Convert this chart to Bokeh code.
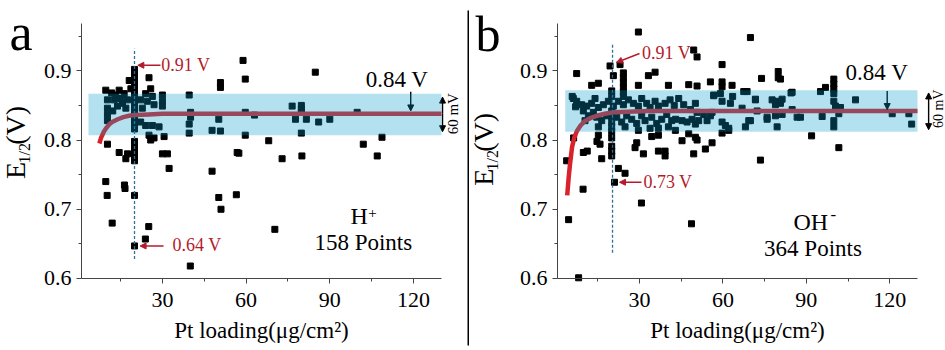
import math
from bokeh.plotting import figure
from bokeh.layouts import row
from bokeh.models import FixedTicker, Label, Arrow, NormalHead, BoxAnnotation, Range1d
from bokeh.embed import file_html
from bokeh.resources import INLINE

SERIF = "Liberation Serif"
RED_TXT = "#b31b2c"
CURVE_RED = "#d8232a"
BAND_COLOR = (5, 155, 205)
DASH_COLOR = "#2f6f96"

# ---------------- data: panel a (H+) ----------------
h_loading = [20, 20, 20, 20, 20, 20, 20, 20, 20, 20, 20, 20, 20, 20, 20, 20, 20, 20, 20, 20,
             9.7, 10.3, 10.3, 10.3, 10.3, 12.7, 13.3, 14.5, 15.7, 16.3, 16.9, 18.1, 18.7, 13.9, 11.8, 12.2, 17.5, 15.0,
             22.2, 22.8, 24.0, 24.6, 25.2, 25.8, 26.4, 27.0, 30.0, 30.0, 30.0, 24.0, 26.4, 28.8, 25.2, 25.8, 27.0, 30.6, 22.2, 39.6, 39.6, 39.6, 40.1, 40.1,
             10.3, 14.5, 16.9, 17.5, 30.0, 31.8, 32.4, 47.8, 9.7,
             10.2, 12.0, 16.4, 16.6, 23.9, 25.1, 40.0, 50.2, 51.0, 56.5, 70.3,
             47.8, 50.8, 50.8, 50.8, 50.2, 56.8,
             58.9, 59.7, 59.7, 63.0, 59.7, 57.4, 68.1, 72.9, 80.0, 84.8, 76.5, 79.8, 79.8, 79.8, 77.7, 81.6, 86.0, 90.0, 79.8, 99.8, 102.0, 108.7, 107.0]
h_e12 = [0.902, 0.895, 0.888, 0.881, 0.874, 0.867, 0.858, 0.851, 0.844, 0.837, 0.830, 0.823, 0.816, 0.798, 0.791, 0.784, 0.777, 0.770, 0.720, 0.647,
         0.872, 0.858, 0.846, 0.837, 0.828, 0.858, 0.865, 0.872, 0.853, 0.867, 0.846, 0.886, 0.874, 0.849, 0.868, 0.842, 0.858, 0.860,
         0.858, 0.846, 0.867, 0.856, 0.890, 0.874, 0.863, 0.851, 0.865, 0.856, 0.849, 0.821, 0.821, 0.819, 0.807, 0.800, 0.803, 0.805, 0.826, 0.865, 0.823, 0.810, 0.840, 0.833,
         0.794, 0.782, 0.773, 0.780, 0.780, 0.780, 0.759, 0.755, 0.740,
         0.720, 0.680, 0.735, 0.730, 0.657, 0.675, 0.618, 0.717, 0.700, 0.721, 0.671,
         0.814, 0.813, 0.876, 0.883, 0.830, 0.782,
         0.915, 0.888, 0.840, 0.836, 0.807, 0.781, 0.799, 0.773, 0.777, 0.898, 0.849, 0.850, 0.845, 0.840, 0.830, 0.830, 0.826, 0.830, 0.810, 0.840, 0.794, 0.804, 0.777]
h_fit_x = [7.4, 8.0, 9.0, 10.0, 11.0, 12.0, 14.0, 16.0, 18.0, 20.0, 25.0, 30.0, 40.0, 60.0, 130.0]
h_fit_y = [0.795, 0.803, 0.812, 0.818, 0.823, 0.826, 0.830, 0.833, 0.835, 0.836, 0.837, 0.838, 0.838, 0.838, 0.838]

# ---------------- data: panel b (OH-) ----------------
oh_loading = [29.6, 19.4, 23.0, 7.4, 12.8, 15.2, 20.6, 24.2, 24.2, 24.2, 24.2, 24.2, 24.2, 33.2, 35.6, 29.6, 40.4,
              15.2, 20.0, 20.0, 20.0, 20.0, 15.8, 9.8, 16.4, 22.4, 24.8, 29.0, 28.4, 31.4, 36.8, 39.2, 39.2, 34.4, 36.8, 3.8, 6.3, 11.2, 14.7, 42.9,
              6.2, 7.4, 9.2, 11.0, 12.8, 14.0, 15.2, 17.0, 18.8, 20.0, 20.6, 22.4, 24.2, 26.0, 27.8, 29.6, 30.8, 32.6, 33.8, 35.6, 36.8, 39.2, 41.0,
              9.8, 11.6, 13.4, 14.6, 16.4, 18.2, 20.0, 21.8, 23.6, 25.4, 27.2, 29.0, 30.8, 32.0, 34.4, 36.2, 38.0, 39.8, 41.6,
              10.4, 15.2, 20.0, 24.8, 29.6, 33.8, 36.8, 40.4,
              20.0, 20.0, 20.0, 20.0, 5.8, 7.0, 42.5, 43.0,
              4.5, 9.7, 8.1, 21.0, 30.7, 48.7,
              44.1, 45.9, 48.3, 50.1, 50.7, 45.3, 47.1, 48.9, 50.1, 51.3, 53.1, 54.3, 56.1, 56.7, 59.1, 59.7, 59.7, 60.9, 62.1, 62.7,
              66.9, 67.5, 68.7, 71.7, 69.3, 68.1, 72.3, 75.9, 77.7, 78.9, 79.5, 80.7, 78.9, 79.5, 81.3, 84.9, 86.7,
              47.7, 50.7, 55.5, 59.7, 59.7, 63.3, 73.9, 79.9, 79.9, 80.7, 84.9, 49.5, 50.7, 59.7, 69.9, 45.3, 47.7, 50.1, 50.7, 49.5, 53.7, 56.1, 59.7, 73.5,
              99.9, 99.9, 99.9, 99.9, 95.1, 96.9, 107.7, 99.9, 100.5, 102.3, 101.7, 87.9, 95.7, 99.9, 99.9, 91.9, 101.7, 120.9, 126.9, 127.9,
              63.5, 71.7, 81.3, 84.5, 56.7, 55.5, 62.1, 69.9, 75.9]
oh_e12 = [0.956, 0.907, 0.909, 0.896, 0.879, 0.882, 0.893, 0.897, 0.890, 0.883, 0.876, 0.869, 0.863, 0.893, 0.898, 0.879, 0.879,
          0.807, 0.803, 0.791, 0.784, 0.777, 0.794, 0.782, 0.773, 0.759, 0.752, 0.796, 0.789, 0.780, 0.784, 0.784, 0.777, 0.805, 0.807, 0.770, 0.803, 0.784, 0.798, 0.814,
          0.860, 0.856, 0.851, 0.849, 0.853, 0.860, 0.847, 0.851, 0.856, 0.863, 0.849, 0.856, 0.851, 0.858, 0.853, 0.849, 0.860, 0.853, 0.847, 0.856, 0.849, 0.853, 0.858,
          0.842, 0.835, 0.840, 0.833, 0.828, 0.835, 0.842, 0.833, 0.826, 0.835, 0.830, 0.824, 0.835, 0.828, 0.833, 0.824, 0.830, 0.837, 0.828,
          0.828, 0.819, 0.819, 0.819, 0.814, 0.817, 0.817, 0.819,
          0.871, 0.835, 0.826, 0.812, 0.863, 0.848, 0.850, 0.830,
          0.685, 0.729, 0.601, 0.739, 0.709, 0.679,
          0.860, 0.851, 0.844, 0.853, 0.840, 0.828, 0.826, 0.830, 0.823, 0.828, 0.837, 0.828, 0.840, 0.865, 0.867, 0.856, 0.826, 0.821, 0.817, 0.853,
          0.846, 0.870, 0.870, 0.858, 0.828, 0.819, 0.842, 0.830, 0.858, 0.851, 0.856, 0.853, 0.835, 0.819, 0.837, 0.844, 0.833,
          0.880, 0.878, 0.884, 0.884, 0.877, 0.879, 0.889, 0.899, 0.890, 0.888, 0.869, 0.930, 0.920, 0.909, 0.948, 0.799, 0.809, 0.804, 0.800, 0.780, 0.787, 0.796, 0.810, 0.771,
          0.888, 0.881, 0.874, 0.867, 0.870, 0.876, 0.858, 0.856, 0.849, 0.847, 0.838, 0.833, 0.834, 0.828, 0.819, 0.806, 0.789, 0.838, 0.838, 0.823,
          0.863, 0.859, 0.859, 0.868, 0.864, 0.835, 0.814, 0.828, 0.833]
oh_fit_x = [4.0, 4.5, 5.0, 5.75, 6.5, 7.5, 8.8, 10.5, 12.5, 14.7, 17.5, 20.7, 26.0, 33.0, 130.0]
oh_fit_y = [0.720, 0.745, 0.765, 0.790, 0.803, 0.813, 0.821, 0.828, 0.832, 0.835, 0.838, 0.840, 0.841, 0.842, 0.842]

# ticks
x_ticks = [30, 60, 90, 120]
x_minor = [15, 45, 75, 105]
y_ticks = [0.6, 0.7, 0.8, 0.9]
y_minor = [0.65, 0.75, 0.85, 0.95]
Y_LO, Y_HI = 0.6, 0.969

# annotations
h_band = (3.5, 130, 0.807, 0.867)
oh_band = (3.3, 130, 0.812, 0.872)
h_ref = (20.0, 0.628, 0.932)
oh_ref = (20.3, 0.637, 0.940)


def make_panel(width, xr, x_lo, pts_x, pts_y, fit_x, fit_y, band, ref):
    # frame covers the whole canvas; axes are pinned at the data origin of the panel
    p = figure(width=width, height=350, x_range=Range1d(*xr), y_range=Range1d(0.5032, 0.9871),
               output_backend="svg", toolbar_location=None, title=None,
               min_border_left=0, min_border_right=0, min_border_top=0, min_border_bottom=0)
    p.outline_line_color = None
    p.xgrid.visible = False
    p.ygrid.visible = False
    p.background_fill_color = "white"

    p.xaxis.ticker = FixedTicker(ticks=x_ticks, minor_ticks=x_minor)
    p.yaxis.ticker = FixedTicker(ticks=y_ticks, minor_ticks=y_minor)
    p.xaxis.fixed_location = Y_LO
    p.yaxis.fixed_location = x_lo
    p.xaxis.bounds = (x_lo, 130)
    p.yaxis.bounds = (Y_LO, Y_HI)
    for ax in (p.xaxis, p.yaxis):
        ax.axis_line_color = "#444444"
        ax.major_tick_line_color = "#444444"
        ax.minor_tick_line_color = "#444444"
        ax.major_tick_out = 5
        ax.major_tick_in = 0
        ax.minor_tick_out = 3
        ax.minor_tick_in = 0
        ax.major_label_text_font = SERIF
        ax.major_label_text_font_size = "22px"
        ax.major_label_text_color = "black"
        ax.major_label_standoff = 5
    p.xaxis.major_label_standoff = 10
    p.xaxis.axis_label = "Pt loading(μg/cm²)"
    p.xaxis.axis_label_text_font = SERIF
    p.xaxis.axis_label_text_font_size = "23px"
    p.xaxis.axis_label_text_font_style = "normal"
    p.xaxis.axis_label_text_color = "black"
    p.xaxis.axis_label_standoff = 7

    p.scatter(pts_x, pts_y, marker="square", size=6, color="black")
    p.line(fit_x, fit_y, line_color=CURVE_RED, line_width=4.5)
    p.segment(x0=[ref[0]], y0=[ref[1]], x1=[ref[0]], y1=[ref[2]], line_color=DASH_COLOR,
              line_width=1.3, line_dash="3 2")
    p.add_layout(BoxAnnotation(left=band[0], right=band[1], bottom=band[2], top=band[3],
                               fill_color=BAND_COLOR, fill_alpha=0.3, line_color=None, level="overlay"))
    return p


def lbl(p, x, y, text, size, color="black", align="left", angle=0.0):
    p.add_layout(Label(x=x, y=y, text=text, text_font=SERIF,
                       text_font_size=size, text_color=color, text_align=align,
                       text_baseline="middle", angle=angle))


def arrow(p, x0, y0, x1, y1, color, both=False, size=7):
    head = dict(size=size, fill_color=color, line_color=color)
    p.add_layout(Arrow(x_start=x0, y_start=y0, x_end=x1, y_end=y1, line_color=color, line_width=1.4,
                       end=NormalHead(**head), start=NormalHead(**head) if both else None))


# ---- panel a ----
pa = make_panel(467, (-28.03, 139.35), 1.0, h_loading, h_e12, h_fit_x, h_fit_y, h_band, h_ref)
lbl(pa, -24.8, 0.9546, "a", "52px")
lbl(pa, -22.8, 0.7438, "E", "28px", angle=math.pi / 2)
lbl(pa, -19.6, 0.7660, "1/2", "16px", angle=math.pi / 2)
lbl(pa, -22.8, 0.7930, "(V)", "28px", angle=math.pi / 2)
lbl(pa, 29.6, 0.9079, "0.91 V", "18px", RED_TXT)
arrow(pa, 29.3, 0.908, 21.2, 0.908, RED_TXT, size=6)
lbl(pa, 33.6, 0.6484, "0.64 V", "18px", RED_TXT)
arrow(pa, 30.4, 0.647, 22.0, 0.647, RED_TXT, size=6)
lbl(pa, 114.1, 0.8873, "0.84 V", "23px", align="center")
arrow(pa, 119.0, 0.8696, 119.0, 0.842, "black", size=6)
arrow(pa, 130.4, 0.838, 130.4, 0.862, "black", size=6)
arrow(pa, 130.4, 0.838, 130.4, 0.812, "black", size=6)
lbl(pa, 134.3, 0.838, "60 mV", "15px", align="center", angle=math.pi / 2)
lbl(pa, 97.4, 0.6899, "H", "24px")
lbl(pa, 103.8, 0.6950, "+", "15px")
lbl(pa, 102.0, 0.6525, "158 Points", "23px", align="center")

# ---- divider ----
div = figure(width=2, height=350, output_backend="svg", toolbar_location=None, title=None,
             x_axis_type=None, y_axis_type=None, min_border_left=0, min_border_right=0,
             min_border_top=10, min_border_bottom=5)
div.outline_line_color = None
div.background_fill_color = "black"
div.grid.visible = False

# ---- panel b ----
pb = make_panel(476, (-31.15, 140.07), 0.5, oh_loading, oh_e12, oh_fit_x, oh_fit_y, oh_band, oh_ref)
lbl(pb, -29.0, 0.9525, "b", "50px")
lbl(pb, -26.2, 0.7341, "E", "28px", angle=math.pi / 2)
lbl(pb, -22.8, 0.7560, "1/2", "16px", angle=math.pi / 2)
lbl(pb, -26.2, 0.7830, "(V)", "28px", angle=math.pi / 2)
lbl(pb, 30.9, 0.9263, "0.91 V", "18px", RED_TXT)
arrow(pb, 30.0, 0.925, 21.7, 0.912, RED_TXT, size=6)
lbl(pb, 31.4, 0.7396, "0.73 V", "18px", RED_TXT)
arrow(pb, 30.7, 0.739, 22.8, 0.739, RED_TXT, size=6)
lbl(pb, 115.4, 0.8974, "0.84 V", "23px", align="center")
arrow(pb, 119.1, 0.871, 119.1, 0.844, "black", size=6)
arrow(pb, 134.0, 0.842, 134.0, 0.868, "black", size=6)
arrow(pb, 134.0, 0.842, 134.0, 0.815, "black", size=6)
lbl(pb, 137.5, 0.845, "60 mV", "14px", align="center", angle=math.pi / 2)
lbl(pb, 85.4, 0.6816, "OH", "24px")
lbl(pb, 98.7, 0.6919, "-", "17px")
lbl(pb, 92.4, 0.6428, "364 Points", "23px", align="center")

layout = row(pa, div, pb)
open("out.html", "w").write(file_html(layout, INLINE))
